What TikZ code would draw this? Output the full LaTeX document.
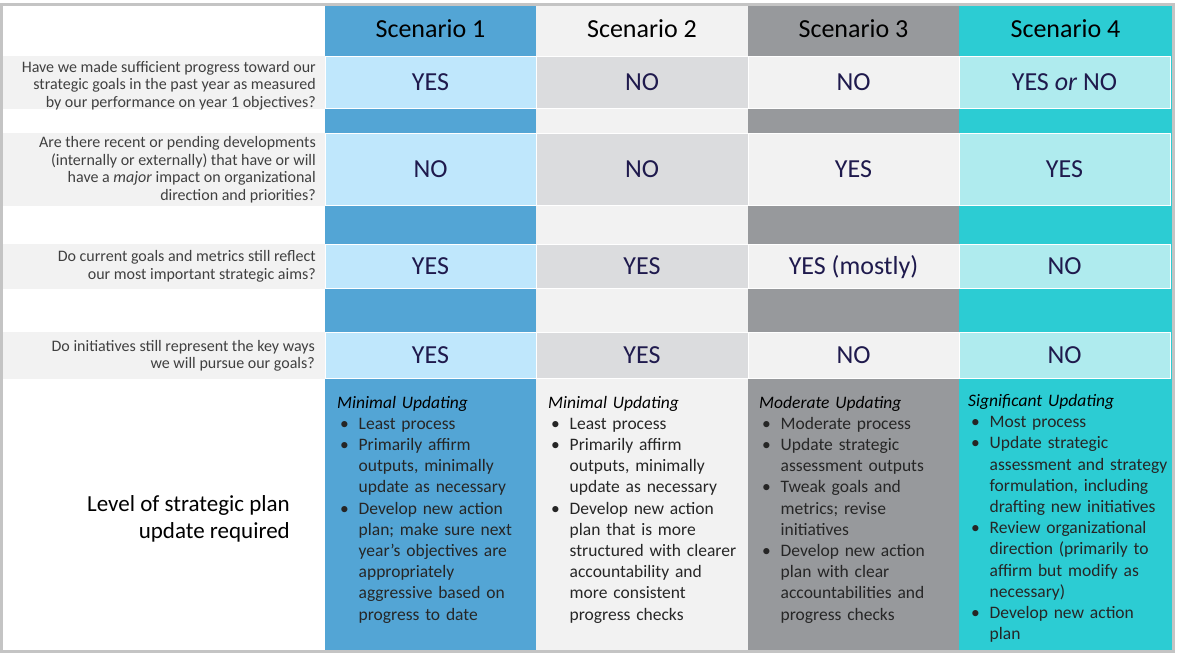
\documentclass[tikz,border=0pt]{standalone}
\usepackage{fontspec}
\setmainfont{Carlito}
\usepackage{xcolor}
\usepackage{tikz}
\usetikzlibrary{positioning}
\definecolor{blueband}{HTML}{53A5D5}
\definecolor{bluecell}{HTML}{BFE7FC}
\definecolor{paleband}{HTML}{F2F2F2}
\definecolor{palecell}{HTML}{DBDCDE}
\definecolor{grayband}{HTML}{97999C}
\definecolor{graycell}{HTML}{F2F2F2}
\definecolor{tealband}{HTML}{2CCCD3}
\definecolor{tealcell}{HTML}{AFEBEE}
\definecolor{quband}{HTML}{F2F2F2}
\definecolor{ansnavy}{HTML}{1F1A4D}
\definecolor{qgray}{HTML}{404040}
\definecolor{plantext}{HTML}{262626}
\definecolor{framegray}{HTML}{C4C4C4}
\newcommand{\planitem}{\par\hangindent=21.5pt\hangafter=1\noindent\makebox[21.5pt][l]{\hspace{3pt}\textbullet}}
\newcommand{\planhead}[1]{{\color{black}\itshape #1}}
\tikzset{%
   answercell/.style = { draw=white, line width=0.6pt, inner sep=0pt, text=ansnavy, font=\fontsize{26}{30}\selectfont, text height=16.7pt, text depth=0pt },
        scene/.style = { inner sep=0pt, text=black, font=\fontsize{26}{30}\selectfont, text height=16.7pt, text depth=0pt },
     question/.style = { anchor=east, align=right, inner sep=0pt, text=qgray, font=\fontsize{16}{17.5}\selectfont },
   levellabel/.style = { anchor=east, align=right, inner sep=0pt, text=black, font=\fontsize{23}{27.7}\selectfont },
         plan/.style = { anchor=base west, inner sep=0pt, text width=200pt, align=left, text=plantext, font=\fontsize{17.5}{21.2}\selectfont }
}

\begin{document}
\begin{tikzpicture}[x=1pt,y=-1pt]
\useasboundingbox (0,0) rectangle (1178,657);
% scenario columns
\fill[blueband] (325,6) rectangle (536,650);
\fill[paleband] (536,6) rectangle (748,650);
\fill[grayband] (748,6) rectangle (959,650);
\fill[tealband] (959,6) rectangle (1172,650);
% question bands
\fill[quband] (3,56) rectangle (325,109);
\fill[quband] (3,133) rectangle (325,206);
\fill[quband] (3,244) rectangle (325,289);
\fill[quband] (3,332) rectangle (325,379);
% headers
\node[scene] (sc1) at (430.5,29) {Scenario 1};
\node[scene] (sc2) at (642,29) {Scenario 2};
\node[scene] (sc3) at (853.5,29) {Scenario 3};
\node[scene] (sc4) at (1065.5,29) {Scenario 4};
% questions
\node[question] (qa) at (316,85.5) {Have we made sufficient progress toward our\\strategic goals in the past year as measured\\by our performance on year 1 objectives?};
\node[question] (qb) at (316,169.5) {Are there recent or pending developments\\(internally or externally) that have or will\\have a \textit{major} impact on organizational\\direction and priorities?};
\node[question] (qc) at (316,266.5) {Do current goals and metrics still reflect\\our most important strategic aims?};
\node[question] (qd) at (315,356) {Do initiatives still represent the key ways\\we will pursue our goals?};
% answers, row 1
\node[answercell, fill=bluecell, minimum width=211pt, minimum height=52pt] (a1) at (430.5,82) {YES};
\node[answercell, fill=palecell, minimum width=212pt, minimum height=52pt] (a2) at (642,82) {NO};
\node[answercell, fill=graycell, minimum width=211pt, minimum height=52pt] (a3) at (853.5,82) {NO};
\node[answercell, fill=tealcell, minimum width=211pt, minimum height=52pt] (a4) at (1064.5,82) {YES \textit{or} NO};
% row 2
\node[answercell, fill=bluecell, minimum width=211pt, minimum height=72pt] (b1) at (430.5,169) {NO};
\node[answercell, fill=palecell, minimum width=212pt, minimum height=72pt] (b2) at (642,169) {NO};
\node[answercell, fill=graycell, minimum width=211pt, minimum height=72pt] (b3) at (853.5,169) {YES};
\node[answercell, fill=tealcell, minimum width=211pt, minimum height=72pt] (b4) at (1064.5,169) {YES};
% row 3
\node[answercell, fill=bluecell, minimum width=211pt, minimum height=44pt] (c1) at (430.5,266) {YES};
\node[answercell, fill=palecell, minimum width=212pt, minimum height=44pt] (c2) at (642,266) {YES};
\node[answercell, fill=graycell, minimum width=211pt, minimum height=44pt] (c3) at (853.5,266) {YES (mostly)};
\node[answercell, fill=tealcell, minimum width=211pt, minimum height=44pt] (c4) at (1064.5,266) {NO};
% row 4
\node[answercell, fill=bluecell, minimum width=211pt, minimum height=46pt] (d1) at (430.5,355) {YES};
\node[answercell, fill=palecell, minimum width=212pt, minimum height=46pt] (d2) at (642,355) {YES};
\node[answercell, fill=graycell, minimum width=211pt, minimum height=46pt] (d3) at (853.5,355) {NO};
\node[answercell, fill=tealcell, minimum width=211pt, minimum height=46pt] (d4) at (1064.5,355) {NO};
% level of update
\node[levellabel] (lvl) at (290,519) {Level of strategic plan\\update required};
\node[plan] (p1) at (337,408) {\planhead{Minimal Updating}
\planitem Least process
\planitem Primarily affirm\newline outputs, minimally\newline update as necessary
\planitem Develop new action\newline plan; make sure next\newline year’s objectives are\newline appropriately\newline aggressive based on\newline progress to date\par};
\node[plan] (p2) at (548,408) {\planhead{Minimal Updating}
\planitem Least process
\planitem Primarily affirm\newline outputs, minimally\newline update as necessary
\planitem Develop new action\newline plan that is more\newline structured with clearer\newline accountability and\newline more consistent\newline progress checks\par};
\node[plan] (p3) at (759,408) {\planhead{Moderate Updating}
\planitem Moderate process
\planitem Update strategic\newline assessment outputs
\planitem Tweak goals and\newline metrics; revise\newline initiatives
\planitem Develop new action\newline plan with clear\newline accountabilities and\newline progress checks\par};
\node[plan] (p4) at (968,406.5) {\planhead{Significant Updating}
\planitem Most process
\planitem Update strategic\newline assessment and strategy\newline formulation, including\newline drafting new initiatives
\planitem Review organizational\newline direction (primarily to\newline affirm but modify as\newline necessary)
\planitem Develop new action\newline plan\par};
% frame
\draw[framegray, line width=3pt] (1.5,4.5) rectangle (1173.5,651.5);
\end{tikzpicture}
\end{document}
